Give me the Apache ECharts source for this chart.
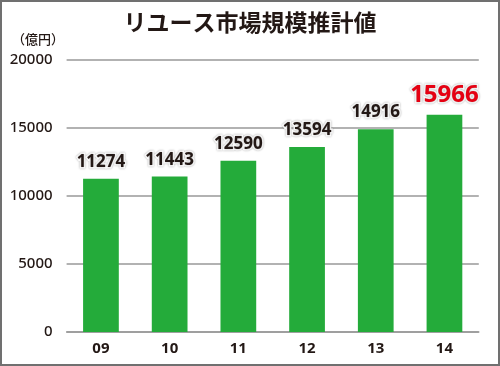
<!DOCTYPE html>
<html><head><meta charset="utf-8">
<script src="https://cdn.jsdelivr.net/npm/echarts@6/dist/echarts.min.js"></script>
<style>html,body{margin:0;padding:0;background:#fff}#c{width:500px;height:366px;box-sizing:border-box;border:2px solid #707070}</style>
</head><body><div id="c"></div>
<script>
const categories = ['09','10','11','12','13','14'];
const values = [11274, 11443, 12590, 13594, 14916, 15966];
const yTicks = [0, 5000, 10000, 15000, 20000];
const title = 'リユース市場規模推計値';
const unit = '（億円）';

const chart = echarts.init(document.getElementById('c'));
const font = '"Noto Sans CJK JP", "Noto Sans", sans-serif';
const numFont = '"Noto Sans", "Open Sans", sans-serif';
chart.setOption({
  animation: false,
  title: {text: title, left: 'center', top: 4, textStyle: {fontFamily: font, fontSize: 23, fontWeight: 'bold', color: '#231815'}},
  graphic: [{type: 'text', left: 10, top: 31, style: {text: unit, font: '500 13px ' + font, fill: '#231815'}}],
  grid: {left: 64.6, right: 19.2, top: 58, bottom: 32},
  xAxis: {type: 'category', data: categories,
    axisLine: {lineStyle: {color: '#999', width: 1.5}}, axisTick: {show: false},
    axisLabel: {fontFamily: numFont, fontWeight: 'bold', fontSize: 15, color: '#231815', margin: 9}},
  yAxis: {type: 'value', min: yTicks[0], max: yTicks[yTicks.length-1], interval: 5000,
    axisLine: {show: false}, axisTick: {show: false},
    splitLine: {lineStyle: {color: '#999', width: 1.5}},
    axisLabel: {fontFamily: numFont, fontWeight: 500, fontSize: 15, color: '#231815', margin: 14, formatter: v => String(v)}},
  series: [{type: 'bar', data: values.map((v, i) => i === values.length - 1 ? {value: v, label: {fontSize: 24, color: '#e60012'}} : v),
    barWidth: '52%', itemStyle: {color: '#24ab3a'},
    label: {show: true, position: 'top', distance: 8, fontFamily: numFont, fontWeight: 'bold', fontSize: 17, color: '#231815',
      textBorderColor: '#fff', textBorderWidth: 3, textShadowColor: 'rgba(0,0,0,0.35)', textShadowBlur: 2}}]
});
</script></body></html>
